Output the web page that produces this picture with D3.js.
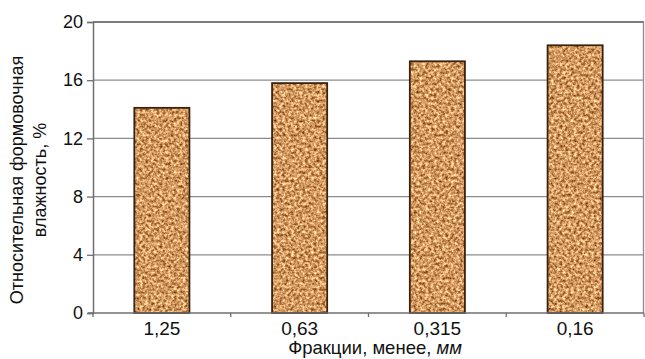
<!DOCTYPE html>
<html>
<head>
<meta charset="utf-8">
<script src="https://cdn.jsdelivr.net/npm/d3@7"></script>
<style>
  html, body { margin: 0; padding: 0; background: #fff; }
  svg { display: block; font-family: "Liberation Sans", Arial, sans-serif; }
</style>
</head>
<body>
<svg id="chart" width="645" height="359"></svg>
<script>
// Relative moulding moisture by sand fraction
const categories = ["1,25", "0,63", "0,315", "0,16"];
const moisture = [14.1, 15.8, 17.3, 18.4];
const yTicks = [0, 4, 8, 12, 16, 20];

const svg = d3.select("#chart");
const margin = { left: 93, right: 1, top: 22, bottom: 46 };
const W = 645, H = 359;

const x = d3.scaleBand()
  .domain(categories)
  .range([margin.left, W - margin.right])
  .paddingInner(0.6)
  .paddingOuter(0.3);

const y = d3.scaleLinear()
  .domain([0, 20])
  .range([H - margin.bottom, margin.top]);

// Sandy grain texture for the bars
const defs = svg.append("defs");
const f = defs.append("filter").attr("id", "sand")
  .attr("x", 0).attr("y", 0).attr("width", 1).attr("height", 1)
  .attr("color-interpolation-filters", "sRGB");
f.append("feTurbulence")
  .attr("type", "fractalNoise").attr("baseFrequency", 0.35)
  .attr("numOctaves", 3).attr("seed", 7).attr("result", "noise");
f.append("feColorMatrix").attr("in", "noise").attr("type", "matrix")
  .attr("values", "1.0 0 0 0 0.32  1.1 0 0 0 0.05  1.0 0 0 0 -0.12  0 0 0 0 1")
  .attr("result", "col");
f.append("feGaussianBlur").attr("in", "col").attr("stdDeviation", 0.6).attr("result", "soft");
f.append("feComposite").attr("in", "soft").attr("in2", "SourceGraphic").attr("operator", "in");

// Horizontal gridlines
svg.append("g")
  .selectAll("line")
  .data(yTicks.filter(d => d > 0))
  .join("line")
  .attr("x1", margin.left).attr("x2", W - margin.right)
  .attr("y1", d => y(d)).attr("y2", d => y(d))
  .attr("stroke", d => d === 20 ? "#7a7a7a" : "#8c8c8c")
  .attr("stroke-width", d => d === 20 ? 2 : 1.3);

// Right border of the plot area
svg.append("line")
  .attr("x1", W - margin.right - 0.5).attr("x2", W - margin.right - 0.5)
  .attr("y1", y(20)).attr("y2", y(0))
  .attr("stroke", "#8c8c8c").attr("stroke-width", 1.3);

// Y axis
const yAxis = svg.append("g")
  .attr("transform", `translate(${margin.left},0)`)
  .call(d3.axisLeft(y).tickValues(yTicks).tickSize(6).tickPadding(4));
yAxis.select(".domain").attr("stroke", "#6f6f6f").attr("stroke-width", 1.5);
yAxis.selectAll(".tick line").attr("stroke", "#6f6f6f").attr("stroke-width", 1.3);
yAxis.selectAll(".tick text")
  .attr("font-size", 18).attr("fill", "#111")
  .attr("font-family", "Liberation Sans, Arial, sans-serif");

// Bars
const bars = svg.append("g");
bars.selectAll("rect.fill")
  .data(categories)
  .join("rect")
  .attr("class", "fill")
  .attr("x", d => x(d))
  .attr("y", (d, i) => y(moisture[i]))
  .attr("width", x.bandwidth())
  .attr("height", (d, i) => y(0) - y(moisture[i]))
  .attr("fill", "#cc9454")
  .attr("filter", "url(#sand)");
bars.selectAll("rect.edge")
  .data(categories)
  .join("rect")
  .attr("class", "edge")
  .attr("x", d => x(d))
  .attr("y", (d, i) => y(moisture[i]))
  .attr("width", x.bandwidth())
  .attr("height", (d, i) => y(0) - y(moisture[i]))
  .attr("fill", "none")
  .attr("stroke", "#3a2210")
  .attr("stroke-width", 1.8);

// X axis with ticks between categories
const xAxis = svg.append("g")
  .attr("transform", `translate(0,${y(0)})`);
xAxis.append("line")
  .attr("x1", margin.left - 5).attr("x2", W - margin.right)
  .attr("stroke", "#6f6f6f").attr("stroke-width", 1.5);
xAxis.selectAll("line.sep")
  .data(d3.range(categories.length + 1))
  .join("line")
  .attr("class", "sep")
  .attr("x1", i => margin.left + i * (W - margin.right - margin.left) / categories.length)
  .attr("x2", i => margin.left + i * (W - margin.right - margin.left) / categories.length)
  .attr("y1", 0).attr("y2", 4)
  .attr("stroke", "#6f6f6f").attr("stroke-width", 1.3);
xAxis.selectAll("text")
  .data(categories)
  .join("text")
  .attr("x", d => x(d) + x.bandwidth() / 2)
  .attr("y", 22)
  .attr("text-anchor", "middle")
  .attr("font-size", 19)
  .attr("fill", "#111")
  .text(d => d);

// Axis titles
const xt = svg.append("text")
  .attr("x", 375)
  .attr("y", 354)
  .attr("text-anchor", "middle")
  .attr("font-size", 18.5)
  .attr("fill", "#111");
xt.append("tspan").text("Фракции, менее, ");
xt.append("tspan").attr("font-style", "italic").text("мм");

const yt = svg.append("text")
  .attr("transform", "translate(23,180) rotate(-90)")
  .attr("text-anchor", "middle")
  .attr("font-size", 18)
  .attr("fill", "#111");
yt.append("tspan").attr("x", 0).attr("y", 0).text("Относительная формовочная");
yt.append("tspan").attr("x", 0).attr("y", 23).text("влажность, %");
</script>
</body>
</html>
